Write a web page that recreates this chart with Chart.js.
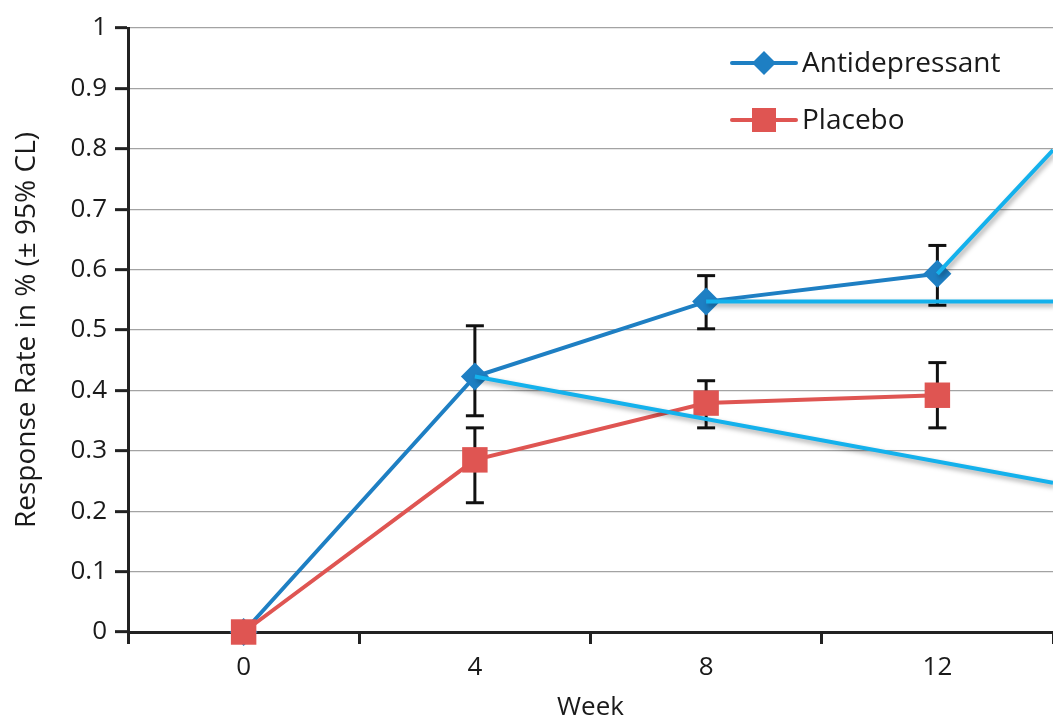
<!DOCTYPE html>
<html>
<head>
<meta charset="utf-8">
<script src="https://cdn.jsdelivr.net/npm/chart.js@4.4.0/dist/chart.umd.min.js"></script>
<style>
  html, body { margin: 0; padding: 0; background: #fff; }
  #wrap { width: 1053px; height: 719px; }
</style>
</head>
<body>
<div id="wrap"><canvas id="responseChart" width="1053" height="719"></canvas></div>
<script>
// weeks and response rates
var weeks = [0, 4, 8, 12];
var antidepressant = [0, 0.423, 0.547, 0.593];
var antidepressantLow = [null, 0.358, 0.502, 0.541];
var antidepressantHigh = [null, 0.507, 0.590, 0.640];
var placebo = [0, 0.285, 0.379, 0.392];
var placeboLow = [null, 0.214, 0.338, 0.338];
var placeboHigh = [null, 0.338, 0.416, 0.446];

// light blue extrapolation lines: start week -> value at week 14
var trendStart = [4, 8, 12];
var trendEndWeek = 14;
var trendEnd = [0.247, 0.547, 0.798];

var yTicks = [0, 0.1, 0.2, 0.3, 0.4, 0.5, 0.6, 0.7, 0.8, 0.9, 1];

var blue = '#1e7fc3';
var red = '#df5552';
var lightBlue = '#14b1ec';
var ink = '#1a1a1a';
var fontFamily = "'Open Sans', 'Noto Sans', sans-serif";

function points(xs, ys) {
    return xs.map(function (x, i) { return { x: x, y: ys[i] }; });
}

function errorPoints(lo, hi) {
    var out = [];
    weeks.forEach(function (w, i) {
        if (lo[i] == null) return;
        out.push({ x: w, y: lo[i] });
        out.push({ x: w, y: hi[i] });
        out.push({ x: w, y: null });
    });
    return out;
}

function trendPoints() {
    var out = [];
    trendStart.forEach(function (w, i) {
        out.push({ x: w, y: antidepressant[weeks.indexOf(w)] });
        out.push({ x: trendEndWeek, y: trendEnd[i] });
        out.push({ x: trendEndWeek, y: null });
    });
    return out;
}

var errorStyle = {
    borderColor: '#111',
    borderWidth: 3,
    pointStyle: 'line',
    pointRadius: 9,
    pointBorderWidth: 3,
    pointBorderColor: '#111',
    spanGaps: false,
    order: 3
};

var shadowPlugin = {
    id: 'shadow',
    beforeDatasetDraw: function (chart, args) {
        if (!chart.data.datasets[args.index].shadow) return;
        var c = chart.ctx;
        c.save();
        c.shadowColor = 'rgba(0,0,0,0.35)';
        c.shadowBlur = 5;
        c.shadowOffsetX = 2;
        c.shadowOffsetY = 3;
    },
    afterDatasetDraw: function (chart, args) {
        if (!chart.data.datasets[args.index].shadow) return;
        chart.ctx.restore();
    }
};

var legendPlugin = {
    id: 'innerLegend',
    afterDraw: function (chart) {
        var c = chart.ctx;
        var rows = [63, 120];
        var n = 0;
        chart.data.datasets.forEach(function (ds) {
            if (!ds.inLegend) return;
            var y = rows[n++];
            c.save();
            c.strokeStyle = ds.borderColor;
            c.lineWidth = 4;
            c.lineCap = 'round';
            c.beginPath();
            c.moveTo(732, y);
            c.lineTo(796, y);
            c.stroke();
            c.fillStyle = ds.pointBackgroundColor;
            c.beginPath();
            if (ds.pointStyle === 'rectRot') {
                c.moveTo(764 - 12, y);
                c.lineTo(764, y - 12);
                c.lineTo(764 + 12, y);
                c.lineTo(764, y + 12);
                c.closePath();
            } else {
                c.rect(764 - 12, y - 12, 24, 24);
            }
            c.fill();
            c.fillStyle = ink;
            c.font = '28px ' + fontFamily;
            c.textAlign = 'left';
            c.textBaseline = 'middle';
            c.fillText(ds.label, 802, y + 1);
            c.restore();
        });
    }
};

var ctx = document.getElementById('responseChart').getContext('2d');
var responseChart = new Chart(ctx, {
    type: 'line',
    data: {
        datasets: [
            {
                label: 'extrapolation',
                data: trendPoints(),
                borderColor: lightBlue,
                borderWidth: 4,
                pointRadius: 0,
                spanGaps: false,
                shadow: true,
                order: 0
            },
            {
                label: 'Antidepressant',
                data: points(weeks, antidepressant),
                borderColor: blue,
                borderWidth: 4,
                pointStyle: 'rectRot',
                pointRadius: 14,
                pointBorderWidth: 0,
                pointBackgroundColor: blue,
                clip: false,
                inLegend: true,
                order: 2
            },
            {
                label: 'Placebo',
                data: points(weeks, placebo),
                borderColor: red,
                borderWidth: 4,
                pointStyle: 'rect',
                pointRadius: 18,
                pointBorderWidth: 0,
                pointBackgroundColor: red,
                clip: false,
                inLegend: true,
                order: 1
            },
            Object.assign({ label: 'Antidepressant CL', data: errorPoints(antidepressantLow, antidepressantHigh) }, errorStyle),
            Object.assign({ label: 'Placebo CL', data: errorPoints(placeboLow, placeboHigh) }, errorStyle)
        ]
    },
    options: {
        responsive: false,
        animation: false,
        events: [],
        layout: { autoPadding: false, padding: { top: 28, left: 4, right: 0, bottom: 0 } },
        plugins: {
            legend: { display: false },
            tooltip: { enabled: false }
        },
        scales: {
            x: {
                type: 'linear',
                min: -2,
                max: 14,
                afterFit: function (scale) {
                    scale.height = 87;
                    scale.paddingLeft = 0;
                    scale.paddingRight = 0;
                },
                border: { color: '#222', width: 3 },
                grid: {
                    drawOnChartArea: false,
                    tickLength: 12,
                    tickWidth: 3,
                    tickColor: function (c) {
                        return c.tick && (c.tick.value + 2) % 4 === 0 ? '#222' : 'rgba(0,0,0,0)';
                    }
                },
                ticks: {
                    stepSize: 2,
                    autoSkip: false,
                    maxRotation: 0,
                    padding: 8,
                    color: ink,
                    font: { family: fontFamily, size: 26 },
                    callback: function (v) {
                        return weeks.indexOf(v) >= 0 ? String(v) : '';
                    }
                },
                title: {
                    display: true,
                    text: 'Week',
                    color: ink,
                    font: { family: fontFamily, size: 26 },
                    padding: { top: 0, bottom: -4 }
                }
            },
            y: {
                min: 0,
                max: 1,
                afterFit: function (scale) { scale.width = 124; },
                afterBuildTicks: function (scale) {
                    scale.ticks = yTicks.map(function (v) { return { value: v }; });
                },
                border: { color: '#222', width: 3 },
                grid: {
                    color: '#a3a3a3',
                    lineWidth: 1.3,
                    tickLength: 13,
                    tickWidth: 3,
                    tickColor: '#222'
                },
                ticks: {
                    padding: 8,
                    color: ink,
                    font: { family: fontFamily, size: 26 },
                    callback: function (v) { return String(Math.round(v * 10) / 10); }
                },
                title: {
                    display: true,
                    text: 'Response Rate in % (± 95% CL)',
                    color: ink,
                    font: { family: fontFamily, size: 28 },
                    padding: { top: 6, bottom: 0 }
                }
            }
        }
    },
    plugins: [shadowPlugin, legendPlugin]
});
</script>
</body>
</html>
